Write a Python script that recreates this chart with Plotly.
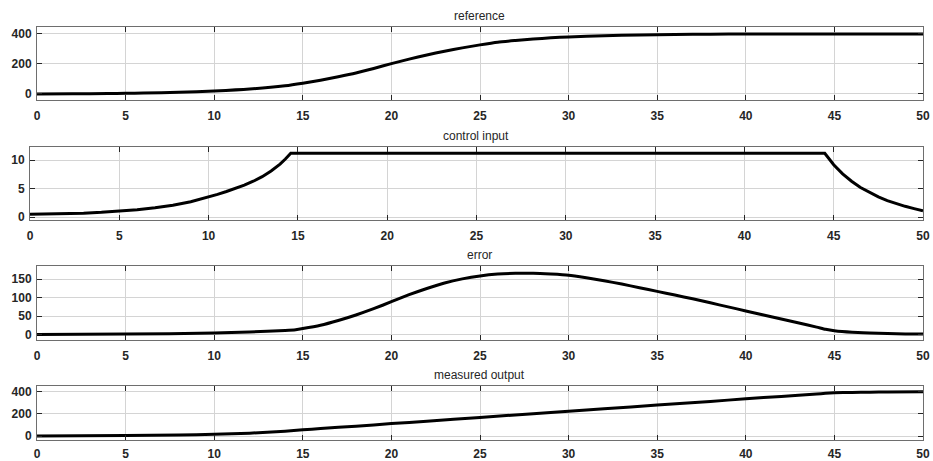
import plotly.graph_objects as go

# ---- data ----
t_ref = [0, 2, 4, 5, 6, 8, 10, 12, 14, 15, 16, 17, 18, 19, 20, 21, 22, 23, 24, 25, 26, 27, 28, 29, 30, 32, 34, 36, 38, 40, 45, 50]
ref_vals = [0, 1, 3, 5, 6, 11, 20, 33, 55, 72, 92, 115, 140, 170, 202, 232, 260, 285, 307, 327, 345, 356, 366, 374, 380, 388, 393, 396, 398, 399, 400, 400]

t_u = [0, 1, 2, 3, 4, 5, 6, 7, 8, 9, 10, 10.5, 11, 11.5, 12, 12.5, 13, 13.5, 14, 14.3, 14.6, 44.5, 44.75, 45, 45.5, 46, 46.5, 47, 47.5, 48, 48.5, 49, 49.5, 50]
u_vals = [0.5, 0.55, 0.6, 0.7, 0.85, 1.05, 1.3, 1.65, 2.1, 2.7, 3.5, 4.0, 4.5, 5.0, 5.6, 6.3, 7.1, 8.1, 9.3, 10.2, 11.2, 11.2, 10.1, 9.2, 7.6, 6.3, 5.2, 4.3, 3.55, 2.9, 2.35, 1.9, 1.5, 1.1]

t_err = [0, 5, 10, 12, 14, 14.6, 15, 16, 17, 18, 19, 20, 21, 22, 23, 24, 25, 26, 27, 28, 29, 30, 31, 32, 33, 34, 35, 36, 37, 38, 39, 40, 41, 42, 43, 44, 44.5, 45, 46, 47, 48, 49, 50]
err_vals = [0, 1, 4, 7, 11, 13, 16, 25, 38, 53, 70, 89, 108, 125, 140, 151, 159, 164, 166, 166, 164, 161, 154, 146, 137, 127, 117, 107, 97, 86, 75, 64, 53, 42, 31, 20, 14, 10, 6, 4, 2.5, 1.5, 1]

t_out = [0, 5, 8, 10, 12, 14, 15, 16, 18, 20, 22, 25, 28, 30, 32, 35, 38, 40, 42, 44, 44.5, 45, 46, 47, 48, 50]
out_vals = [0, 4, 9, 16, 26, 44, 56, 67, 89, 112, 134, 168, 202, 224, 246, 280, 313, 336, 358, 380, 386, 390, 394, 396, 397.5, 399]

x_ticks = [0, 5, 10, 15, 20, 25, 30, 35, 40, 45, 50]
titles = ["reference", "control input", "error", "measured output"]

W, H = 933, 461
# panel pixel boxes: (left, right, top, bottom)
boxes = [(37, 923, 27, 100), (30, 923, 147, 220), (37, 923, 266, 340), (37, 923, 386, 440)]
yranges = [[-40, 446], [-0.5, 12.3], [-15, 186], [-36, 452]]
yticks = [[0, 200, 400], [0, 5, 10], [0, 50, 100, 150], [0, 200, 400]]
series = [(t_ref, ref_vals), (t_u, u_vals), (t_err, err_vals), (t_out, out_vals)]
shapes_ = ["spline", "linear", "spline", "spline"]
x_standoff = [5, 5, 5, 3]

fig = go.Figure()
tickfont = dict(family="Liberation Sans, Arial", size=12, color="#262626", weight="bold")
axis_common = dict(showline=True, linecolor="#6e6e6e", linewidth=1, mirror="ticks",
                   ticks="inside", ticklen=5, tickcolor="#262626", showgrid=True,
                   gridcolor="#d4d4d4", gridwidth=1, zeroline=False, tickfont=tickfont,
                   automargin=False)

annotations = []
for i, ((l, r, tp, b), yr, yt, (tx, ty), title, shp) in enumerate(zip(boxes, yranges, yticks, series, titles, shapes_)):
    n = "" if i == 0 else str(i + 1)
    line = dict(color="black", width=3, shape=shp)
    if shp == "spline":
        line["smoothing"] = 0.5
    fig.add_trace(go.Scatter(x=tx, y=ty, mode="lines", line=line,
                             xaxis="x" + n, yaxis="y" + n, showlegend=False))
    fig.layout["xaxis" + n] = dict(domain=[l / W, r / W], anchor="y" + n, range=[0, 50],
                                   tickvals=x_ticks, ticklabelstandoff=x_standoff[i], **axis_common)
    fig.layout["yaxis" + n] = dict(domain=[1 - b / H, 1 - tp / H], anchor="x" + n, range=yr,
                                   tickvals=yt, ticklabelstandoff=2, **axis_common)
    annotations.append(dict(text=title, x=(l + r) / 2 / W, y=1 - (tp - 2) / H, xref="paper", yref="paper",
                            xanchor="center", yanchor="bottom", showarrow=False,
                            font=dict(family="Liberation Sans, Arial", size=12, color="#262626")))

fig.update_layout(width=W, height=H, margin=dict(l=0, r=0, t=0, b=0),
                  paper_bgcolor="white", plot_bgcolor="white", annotations=annotations)
fig.write_html("out.html", config={"displayModeBar": False},
               post_script="document.body.style.margin='0';document.body.style.overflow='hidden';")
